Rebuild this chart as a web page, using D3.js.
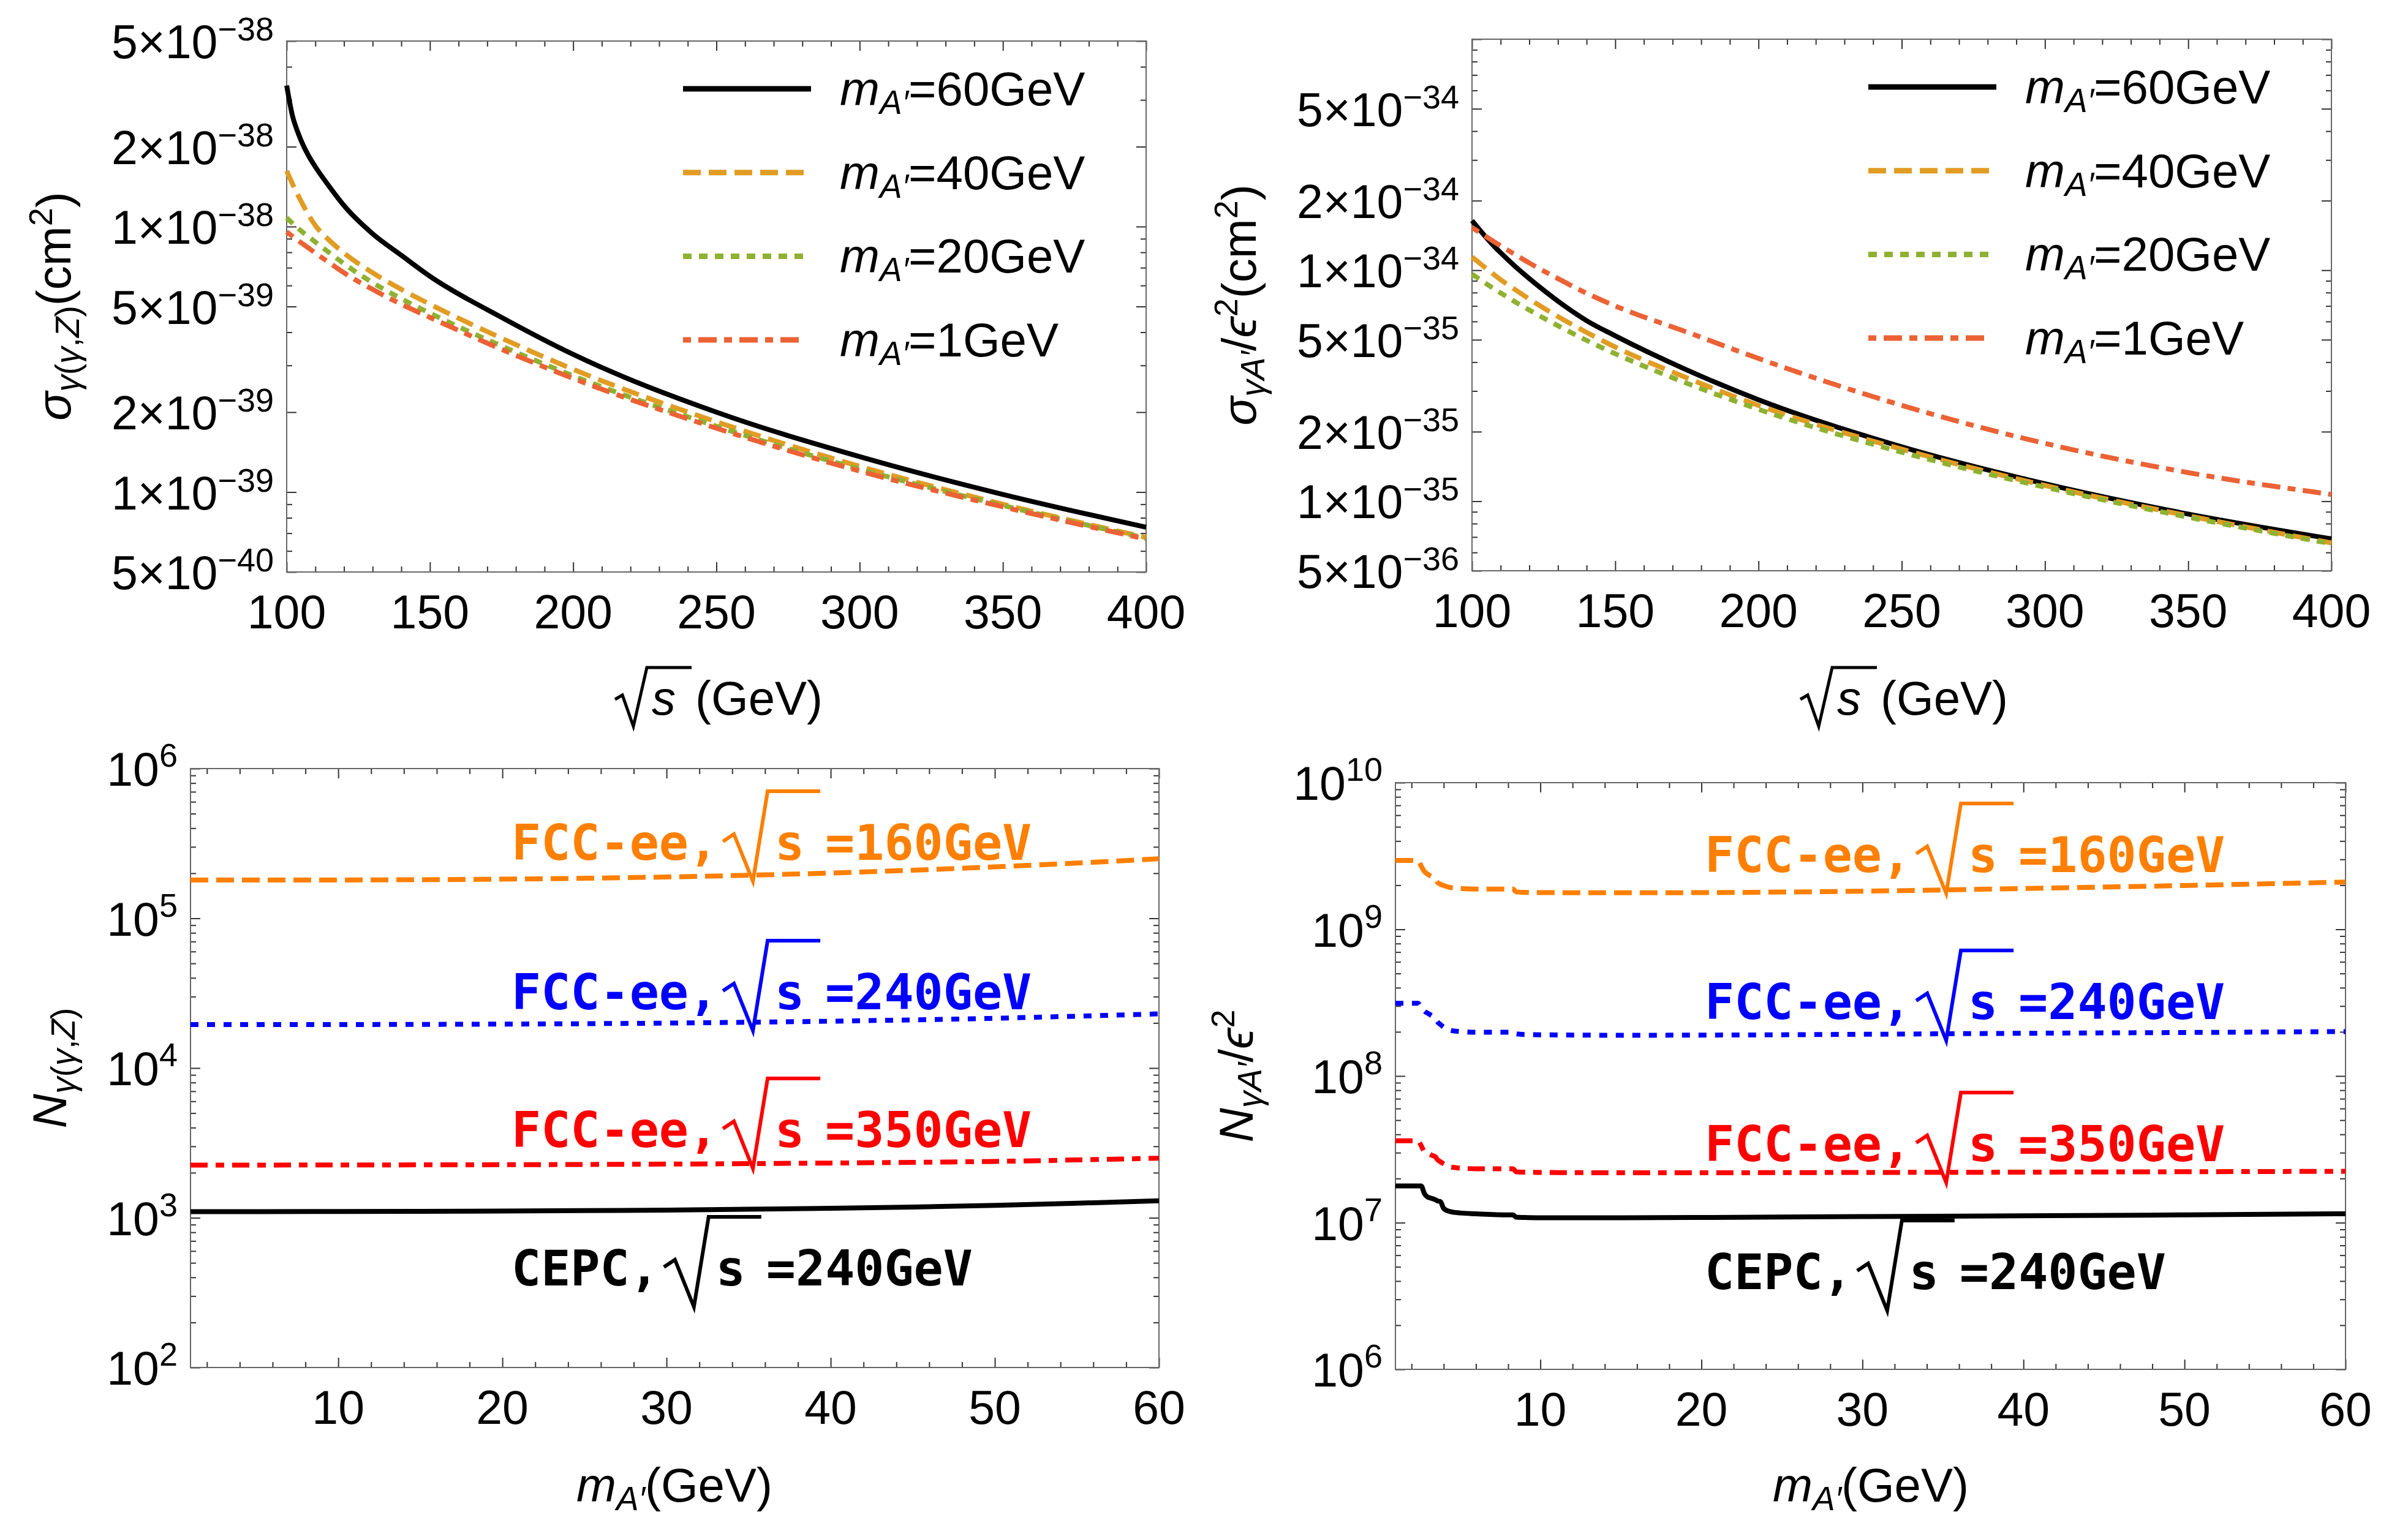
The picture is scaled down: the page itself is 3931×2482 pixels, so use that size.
<!DOCTYPE html>
<html>
<head>
<meta charset="utf-8">
<script src="https://cdn.jsdelivr.net/npm/d3@7"></script>
<style>
body { margin: 0; background: #fff; }
text { font-family: "Liberation Sans", Arial, Helvetica, sans-serif; }
</style>
</head>
<body>
<script>
// ---- data ----
// top panels: sqrt(s) in GeV
var sqrtS = [100, 102, 104, 106, 108, 110, 115, 120, 130, 140, 150, 175, 200, 250, 300, 350, 400];
// sigma_{gamma(gamma,Z)} in cm^2
var sigZ60 = [3.40e-38, 2.62e-38, 2.25e-38, 2.0e-38, 1.82e-38, 1.68e-38, 1.41e-38, 1.2e-38, 9.4e-39, 7.8e-39, 6.5e-39, 4.55e-39, 3.3e-39, 2.0e-39, 1.36e-39, 9.8e-40, 7.37e-40];
var sigZ40 = [1.62e-38, 1.45e-38, 1.31e-38, 1.19e-38, 1.09e-38, 1.01e-38, 8.85e-39, 7.95e-39, 6.7e-39, 5.8e-39, 5.1e-39, 3.8e-39, 2.9e-39, 1.84e-39, 1.25e-39, 9.0e-40, 6.75e-40];
var sigZ20 = [1.08e-38, 1.03e-38, 9.85e-39, 9.45e-39, 9.1e-39, 8.75e-39, 7.95e-39, 7.25e-39, 6.15e-39, 5.35e-39, 4.72e-39, 3.55e-39, 2.74e-39, 1.77e-39, 1.22e-39, 8.9e-40, 6.7e-40];
var sigZ1 = [9.55e-39, 9.2e-39, 8.85e-39, 8.55e-39, 8.25e-39, 7.95e-39, 7.3e-39, 6.7e-39, 5.8e-39, 5.1e-39, 4.55e-39, 3.45e-39, 2.68e-39, 1.74e-39, 1.2e-39, 8.8e-40, 6.65e-40];
// sigma_{gamma A'} / eps^2 in cm^2
var sigA60 = [1.64e-34, 1.53e-34, 1.43e-34, 1.34e-34, 1.26e-34, 1.19e-34, 1.04e-34, 9.2e-35, 7.35e-35, 6.05e-35, 5.2e-35, 3.7e-35, 2.75e-35, 1.72e-35, 1.19e-35, 8.8e-36, 6.87e-36];
var sigA40 = [1.14e-34, 1.09e-34, 1.04e-34, 9.95e-35, 9.5e-35, 9.1e-35, 8.25e-35, 7.5e-35, 6.3e-35, 5.38e-35, 4.65e-35, 3.42e-35, 2.6e-35, 1.68e-35, 1.17e-35, 8.65e-36, 6.6e-36];
var sigA20 = [9.62e-35, 9.25e-35, 8.9e-35, 8.57e-35, 8.26e-35, 7.97e-35, 7.3e-35, 6.72e-35, 5.75e-35, 4.97e-35, 4.35e-35, 3.24e-35, 2.5e-35, 1.63e-35, 1.15e-35, 8.53e-36, 6.55e-36];
var sigA1 = [1.53e-34, 1.475e-34, 1.42e-34, 1.37e-34, 1.32e-34, 1.275e-34, 1.17e-34, 1.075e-34, 9.2e-35, 7.95e-35, 7.0e-35, 5.4e-35, 4.15e-35, 2.6e-35, 1.78e-35, 1.33e-35, 1.07e-35];

// bottom-left: m_A' in GeV, N_{gamma(gamma,Z)}
var massL = [1, 5, 10, 15, 20, 25, 30, 35, 40, 45, 50, 55, 60];
var nZfcc160 = [1.80e5, 1.80e5, 1.803e5, 1.811e5, 1.826e5, 1.851e5, 1.888e5, 1.939e5, 2.007e5, 2.095e5, 2.205e5, 2.339e5, 2.50e5];
var nZfcc240 = [1.95e4, 1.95e4, 1.952e4, 1.957e4, 1.965e4, 1.978e4, 1.996e4, 2.022e4, 2.055e4, 2.098e4, 2.15e4, 2.22e4, 2.30e4];
var nZfcc350 = [2.25e3, 2.25e3, 2.252e3, 2.256e3, 2.262e3, 2.27e3, 2.283e3, 2.30e3, 2.32e3, 2.345e3, 2.38e3, 2.435e3, 2.50e3];
var nZcepc = [1.10e3, 1.10e3, 1.101e3, 1.104e3, 1.109e3, 1.116e3, 1.126e3, 1.14e3, 1.158e3, 1.18e3, 1.21e3, 1.25e3, 1.30e3];

// bottom-right: m_A' in GeV, N_{gamma A'} / eps^2
var massR = [1, 2.4, 2.6, 2.8, 3.0, 3.2, 3.5, 3.6, 3.8, 4.0, 4.4, 5, 6, 8, 8.3, 8.5, 9, 10, 15, 20, 30, 40, 50, 60];
var nAfcc160 = [2.95e9, 2.95e9, 2.7e9, 2.48e9, 2.38e9, 2.3e9, 2.19e9, 2.1e9, 2.03e9, 1.99e9, 1.93e9, 1.9e9, 1.88e9, 1.88e9, 1.88e9, 1.8e9, 1.785e9, 1.78e9, 1.775e9, 1.78e9, 1.82e9, 1.9e9, 1.99e9, 2.1e9];
var nAfcc240 = [3.13e8, 3.13e8, 2.95e8, 2.77e8, 2.68e8, 2.6e8, 2.45e8, 2.35e8, 2.24e8, 2.15e8, 2.05e8, 2.01e8, 1.99e8, 1.99e8, 1.99e8, 1.94e8, 1.92e8, 1.91e8, 1.896e8, 1.9e8, 1.925e8, 1.955e8, 1.98e8, 2.01e8];
var nAfcc350 = [3.62e7, 3.62e7, 3.35e7, 3.05e7, 2.98e7, 2.9e7, 2.8e7, 2.7e7, 2.6e7, 2.52e7, 2.4e7, 2.36e7, 2.33e7, 2.33e7, 2.33e7, 2.22e7, 2.21e7, 2.2e7, 2.19e7, 2.19e7, 2.2e7, 2.21e7, 2.225e7, 2.24e7];
var nAcepc = [1.78e7, 1.78e7, 1.78e7, 1.58e7, 1.495e7, 1.47e7, 1.43e7, 1.41e7, 1.39e7, 1.25e7, 1.19e7, 1.165e7, 1.15e7, 1.13e7, 1.13e7, 1.09e7, 1.085e7, 1.08e7, 1.08e7, 1.085e7, 1.1e7, 1.115e7, 1.13e7, 1.15e7];

// tick labels
var sLabels = [100, 150, 200, 250, 300, 350, 400];
var mLabels = [10, 20, 30, 40, 50, 60];
var tlYLabels = [5e-40, 1e-39, 2e-39, 5e-39, 1e-38, 2e-38, 5e-38];
var trYLabels = [5e-36, 1e-35, 2e-35, 5e-35, 1e-34, 2e-34, 5e-34];
var blYLabels = [1e2, 1e3, 1e4, 1e5, 1e6];
var brYLabels = [1e6, 1e7, 1e8, 1e9, 1e10];

var legendMass = ['60', '40', '20', '1'];
var fccPrefix = ['FCC-ee,', 'FCC-ee,', 'FCC-ee,', 'CEPC,'];
var fccEnergy = ['=160GeV', '=240GeV', '=350GeV', '=240GeV'];

// ---- drawing ----
var W = 3931, H = 2482;
var svg = d3.select('body').append('svg').attr('width', W).attr('height', H);
svg.append('rect').attr('width', W).attr('height', H).attr('fill', '#fff');

var topStyles = [
  {color: '#000000', dash: null},
  {color: '#E19C24', dash: '29,13'},
  {color: '#8FB131', dash: '14,12'},
  {color: '#EB6235', dash: '13,12,30,12'}
];
var botStyles = [
  {color: '#FF7F00', dash: '29,13'},
  {color: '#0000FF', dash: '13,14'},
  {color: '#FF0000', dash: '28,13,14,13'},
  {color: '#000000', dash: null}
];

function decomp(v) {
  var n = Math.floor(Math.log10(v) + 1e-9);
  var k = Math.round(v / Math.pow(10, n));
  return {k: k, n: n};
}

function minorLog(dom) {
  var out = [];
  var lo = Math.floor(Math.log10(dom[0]) + 1e-9), hi = Math.ceil(Math.log10(dom[1]) - 1e-9);
  for (var n = lo; n <= hi; n++) {
    for (var k = 1; k <= 9; k++) {
      var v = k * Math.pow(10, n);
      if (v >= dom[0] * 0.999 && v <= dom[1] * 1.001) out.push(v);
    }
  }
  return out;
}

function drawTicks(g, x, y, p) {
  var defs = [
    [d3.axisBottom(x), 'translate(0,' + p.bottom + ')', p.xMajor, p.xMinor],
    [d3.axisTop(x), 'translate(0,' + p.top + ')', p.xMajor, p.xMinor],
    [d3.axisLeft(y), 'translate(' + p.left + ',0)', p.yMajor, p.yMinor],
    [d3.axisRight(y), 'translate(' + p.right + ',0)', p.yMajor, p.yMinor]
  ];
  defs.forEach(function(d) {
    [[d[2], 16], [d[3], 9]].forEach(function(set) {
      var ax = g.append('g').attr('transform', d[1])
        .call(d[0].tickValues(set[0]).tickSize(-set[1]).tickFormat(''));
      ax.select('.domain').remove();
      ax.selectAll('line').attr('stroke', '#333').attr('stroke-width', 2);
    });
  });
}

function panel(p) {
  var g = svg.append('g');
  var x = d3.scaleLinear().domain(p.xdom).range([p.left, p.right]);
  var y = d3.scaleLog().domain(p.ydom).range([p.bottom, p.top]);

  var minors = minorLog(p.ydom);
  p.yMajor = minors.filter(function(v) { return p.majorK.indexOf(decomp(v).k) >= 0; });
  p.yMinor = minors.filter(function(v) { return p.majorK.indexOf(decomp(v).k) < 0; });
  drawTicks(g, x, y, p);

  g.append('rect').attr('x', p.left).attr('y', p.top)
    .attr('width', p.right - p.left).attr('height', p.bottom - p.top)
    .attr('fill', 'none').attr('stroke', '#666').attr('stroke-width', 2);

  // x labels
  p.xLabels.forEach(function(v) {
    g.append('text').attr('x', x(v)).attr('y', p.bottom + 92)
      .attr('text-anchor', 'middle').attr('font-size', 77).text(v);
  });
  // y labels
  p.yLabels.forEach(function(v) {
    var d = decomp(v);
    var t = g.append('text').attr('x', p.left - 21).attr('y', y(v) + 28)
      .attr('text-anchor', 'end').attr('font-size', 77);
    if (p.majorK.length > 1) {
      t.append('tspan').text(d.k + '\u00d710');
      t.append('tspan').attr('font-size', 54).attr('dy', -29).text('\u2212' + Math.abs(d.n));
    } else {
      t.append('tspan').text('10');
      t.append('tspan').attr('font-size', 54).attr('dy', -31).text(d.n);
    }
  });

  var line = d3.line()
    .x(function(d) { return x(d[0]); })
    .y(function(d) { return y(d[1]); })
    .curve(d3.curveMonotoneX);

  p.series.forEach(function(s, i) {
    var st = p.styles[i];
    g.append('path').datum(d3.zip(p.xs, s))
      .attr('d', line).attr('fill', 'none')
      .attr('stroke', st.color).attr('stroke-width', 8)
      .attr('stroke-dasharray', st.dash);
  });
  return {g: g, x: x, y: y};
}

function legend(g, right, top) {
  legendMass.forEach(function(m, i) {
    var ly = top + 78 + i * 136.7;
    var st = topStyles[i];
    g.append('line').attr('x1', right - 756).attr('x2', i === 0 ? right - 547 : right - 559)
      .attr('y1', ly).attr('y2', ly)
      .attr('stroke', st.color).attr('stroke-width', 9).attr('stroke-dasharray', st.dash);
    var t = g.append('text').attr('x', right - 500).attr('y', ly + 27).attr('font-size', 78);
    t.append('tspan').attr('font-style', 'italic').text('m');
    t.append('tspan').attr('font-style', 'italic').attr('font-size', 55).attr('dy', 14).text('A\u2032');
    t.append('tspan').attr('dy', -14).text('=' + m + 'GeV');
  });
}

function sqrtTitle(g, cx, b) {
  var L = cx - 166;
  g.append('path')
    .attr('d', 'M' + L + ',' + (b - 25) + 'L' + (L + 12) + ',' + (b - 32) + 'L' + (L + 30) + ',' + (b + 19) +
      'L' + (L + 52) + ',' + (b - 77) + 'L' + (L + 125) + ',' + (b - 77))
    .attr('fill', 'none').attr('stroke', '#000').attr('stroke-width', 5);
  g.append('text').attr('x', L + 60).attr('y', b).attr('font-size', 78)
    .attr('font-style', 'italic').text('s');
  g.append('text').attr('x', L + 131).attr('y', b).attr('font-size', 78).text('(GeV)');
}

function massTitle(g, cx, b) {
  var t = g.append('text').attr('x', cx).attr('y', b).attr('text-anchor', 'middle').attr('font-size', 78);
  t.append('tspan').attr('font-style', 'italic').text('m');
  t.append('tspan').attr('font-style', 'italic').attr('font-size', 55).attr('dy', 14).text('A\u2032');
  t.append('tspan').attr('dy', -14).text('(GeV)');
}

function expLabel(g, x0, base, i) {
  var col = botStyles[i].color;
  var adv = 0.602 * 80;
  var xr = x0 + fccPrefix[i].length * adv;
  function mono(x, str) {
    g.append('text').attr('x', x).attr('y', base).attr('font-size', 80)
      .attr('font-weight', 'bold').attr('fill', col)
      .style('font-family', '"DejaVu Sans Mono", "Liberation Mono", monospace').text(str);
  }
  mono(x0, fccPrefix[i]);
  g.append('path')
    .attr('d', 'M' + (xr + 8) + ',' + (base - 30) + 'L' + (xr + 26) + ',' + (base - 42) +
      'L' + (xr + 57) + ',' + (base + 35) + 'L' + (xr + 81) + ',' + (base - 112) + 'L' + (xr + 167) + ',' + (base - 112))
    .attr('fill', 'none').attr('stroke', col).attr('stroke-width', 6);
  mono(xr + 93, 's');
  mono(xr + 175, fccEnergy[i]);
}

function yTitle(g, x, y, parts) {
  var t = g.append('text').attr('transform', 'translate(' + x + ',' + y + ') rotate(-90)')
    .attr('text-anchor', 'middle').attr('font-size', 78);
  parts.forEach(function(p) {
    var s = t.append('tspan').text(p[0]);
    if (p[1]) s.attr('font-size', p[1]);
    if (p[2]) s.attr('dy', p[2]);
    if (p[3]) s.attr('font-style', 'italic');
  });
}

// top-left
var tl = panel({
  left: 468, right: 1871, top: 67, bottom: 934,
  xdom: [100, 400], ydom: [5e-40, 5e-38], majorK: [1, 2, 5],
  xMajor: sLabels, xMinor: d3.range(110, 400, 10).filter(function(v) { return v % 50; }),
  xLabels: sLabels, yLabels: tlYLabels,
  xs: sqrtS, series: [sigZ60, sigZ40, sigZ20, sigZ1], styles: topStyles
});
legend(tl.g, 1871, 67);
sqrtTitle(tl.g, 1170, 1167);
yTitle(tl.g, 115, 500, [['\u03c3', null, 0, 1], ['\u03b3', 55, 14, 1], ['(', 55], ['\u03b3', 55, 0, 1], [',', 55], ['Z', 55, 0, 1], [')', 55],
  ['(cm', 78, -14], ['2', 54, -30], [')', 78, 30]]);

// top-right
var tr = panel({
  left: 2403, right: 3806, top: 64, bottom: 932,
  xdom: [100, 400], ydom: [5e-36, 1e-33], majorK: [1, 2, 5],
  xMajor: sLabels, xMinor: d3.range(110, 400, 10).filter(function(v) { return v % 50; }),
  xLabels: sLabels, yLabels: trYLabels,
  xs: sqrtS, series: [sigA60, sigA40, sigA20, sigA1], styles: topStyles
});
legend(tr.g, 3806, 64);
sqrtTitle(tr.g, 3105, 1167);
yTitle(tr.g, 2050, 498, [['\u03c3', null, 0, 1], ['\u03b3A\u2032', 55, 14, 1], ['/', 78, -14], ['\u03f5', 78, 0, 1],
  ['2', 54, -30], ['(cm', 78, 30], ['2', 54, -30], [')', 78, 30]]);

// bottom-left
var bl = panel({
  left: 311, right: 1892, top: 1255, bottom: 2233,
  xdom: [1, 60], ydom: [1e2, 1e6], majorK: [1],
  xMajor: mLabels, xMinor: d3.range(2, 60, 2).filter(function(v) { return v % 10; }),
  xLabels: mLabels, yLabels: blYLabels,
  xs: massL, series: [nZfcc160, nZfcc240, nZfcc350, nZcepc], styles: botStyles
});
[1404, 1648, 1873, 2099].forEach(function(b, i) { expLabel(bl.g, 835, b, i); });
massTitle(bl.g, 1101, 2452);
yTitle(bl.g, 108, 1744, [['N', null, 0, 1], ['\u03b3', 55, 14, 1], ['(', 55], ['\u03b3', 55, 0, 1], [',', 55], ['Z', 55, 0, 1], [')', 55]]);

// bottom-right
var br = panel({
  left: 2278, right: 3829, top: 1278, bottom: 2236,
  xdom: [1, 60], ydom: [1e6, 1e10], majorK: [1],
  xMajor: mLabels, xMinor: d3.range(2, 60, 2).filter(function(v) { return v % 10; }),
  xLabels: mLabels, yLabels: brYLabels,
  xs: massR, series: [nAfcc160, nAfcc240, nAfcc350, nAcepc], styles: botStyles
});
[1424, 1664, 1896, 2105].forEach(function(b, i) { expLabel(br.g, 2783, b, i); });
massTitle(br.g, 3054, 2452);
yTitle(br.g, 2045, 1757, [['N', null, 0, 1], ['\u03b3A\u2032', 55, 14, 1], ['/', 78, -14], ['\u03f5', 78, 0, 1], ['2', 54, -30]]);
</script>
</body>
</html>
